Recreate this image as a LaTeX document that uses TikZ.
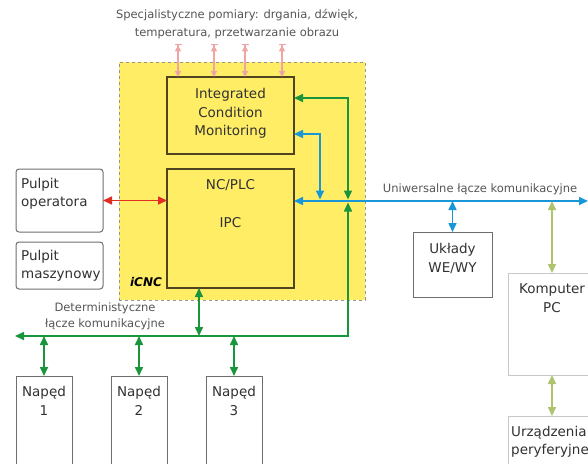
\documentclass[tikz,border=0pt]{standalone}
\usepackage{fontspec}
\setmainfont{DejaVu Sans}
\usetikzlibrary{arrows.meta}

\definecolor{cncyellow}{RGB}{255,237,102}
\definecolor{framegray}{RGB}{150,150,150}
\definecolor{boxdark}{RGB}{80,68,32}
\definecolor{boxgray}{RGB}{110,110,110}
\definecolor{boxlight}{RGB}{200,200,200}
\definecolor{txt}{RGB}{50,50,50}
\definecolor{lbl}{RGB}{85,85,85}
\definecolor{linkred}{RGB}{225,45,35}
\definecolor{linkblue}{RGB}{25,150,215}
\definecolor{linkgreen}{RGB}{25,150,60}
\definecolor{linkolive}{RGB}{175,195,110}
\definecolor{linkpink}{RGB}{240,165,165}

\tikzset{
  box/.style={draw, rectangle, inner sep=0pt, outer sep=0pt, line width=1pt},
  innerbox/.style={box, draw=boxdark, line width=1.3pt, fill=cncyellow},
  panelbox/.style={box, draw=boxgray, rounded corners=3pt, fill=white},
  plainbox/.style={box, draw=boxgray, fill=white},
  txtnode/.style={inner sep=0pt, text=txt, font=\fontsize{13.5}{18.5}\selectfont, align=center},
  smalllbl/.style={inner sep=0pt, text=lbl, font=\fontsize{11.5}{18}\selectfont, align=center},
  link/.style={line width=1.6pt, arrows={Triangle[length=9pt,width=8pt]-Triangle[length=9pt,width=8pt]}},
  sensor/.style={line width=1.4pt, linkpink,
    arrows={{Bar[width=7pt]Triangle[length=6pt,width=6pt]}-Triangle[length=6pt,width=6pt]}},
}

\begin{document}
\begin{tikzpicture}[x=1pt,y=-1pt]
\useasboundingbox (0,0) rectangle (588,463);
\clip (0,0) rectangle (588,463);

% iCNC enclosure
\node[box, draw=framegray, dashed, line width=0.8pt, fill=cncyellow,
      minimum width=246pt, minimum height=238pt] (icnc) at (242,181) {};
\node[inner sep=0pt, font=\fontsize{12}{14}\selectfont\bfseries\itshape] (icnclbl) at (146,282) {iCNC};

% inner blocks
\node[innerbox, minimum width=127pt, minimum height=77pt] (icm) at (230.5,115.5) {};
\node[txtnode] (icmtxt) at (230.5,113.5) {Integrated\\Condition\\Monitoring};
\node[innerbox, minimum width=127pt, minimum height=119pt] (ipc) at (230.5,228.5) {};
\node[txtnode] (nctxt) at (230.5,185) {NC/PLC};
\node[txtnode] (ipctxt) at (230.5,223) {IPC};

% operator panels
\node[panelbox, minimum width=87pt, minimum height=63pt] (pop) at (59.5,200.5) {};
\node[txtnode, align=left, anchor=west] (poptxt) at (21,194) {Pulpit\\operatora};
\node[panelbox, minimum width=87pt, minimum height=47pt] (pmasz) at (59.5,265.5) {};
\node[txtnode, align=left, anchor=west] (pmasztxt) at (21,266) {Pulpit\\maszynowy};

% drives
\foreach \i/\x in {1/44,2/139,3/234}{
  \node[plainbox, minimum width=56pt, minimum height=110pt] (n\i) at (\x,431) {};
  \node[txtnode] (n\i txt) at (\x,401) {Napęd\\\i};
}

% I/O, PC and peripherals
\node[box, draw=boxgray, fill=white, minimum width=79pt, minimum height=65pt] (io) at (452.5,264.5) {};
\node[txtnode] (iotxt) at (452.5,258.5) {Układy\\WE/WY};
\node[box, draw=boxlight, fill=white, minimum width=112pt, minimum height=102pt] (pc) at (564,324) {};
\node[txtnode] (pctxt) at (552,298) {Komputer\\PC};
\node[box, draw=boxlight, fill=white, minimum width=112pt, minimum height=70pt] (per) at (564,451) {};
\node[txtnode, align=left, anchor=west] (pertxt) at (511,442) {Urządzenia\\peryferyjne};

% captions
\node[smalllbl] (title) at (237,24) {Specjalistyczne pomiary: drgania, dźwięk,\\temperatura, przetwarzanie obrazu};
\node[smalllbl] (unilbl) at (480,189) {Uniwersalne łącze komunikacyjne};
\node[smalllbl, font=\fontsize{11.5}{16}\selectfont] (detlbl) at (105,316) {Deterministyczne\\łącze komunikacyjne};

% sensor inputs
\foreach \x [count=\k] in {178,214,245,282}{
  \coordinate (s\k) at (\x,44);
  \draw[sensor] (s\k) -- (s\k |- icm.north);
}

% operator panel link
\draw[link, linkred] (pop.east) -- (pop.east -| ipc.west);

% universal bus
\coordinate (ube) at (588,201);
\coordinate (ub1) at (320,199.5);
\coordinate (ub2) at (348,199.5);
\coordinate (ub3) at (348,202.5);
\coordinate (ubio) at (452.5,201);
\coordinate (ubpc) at (552,201);
\draw[link, linkblue] (ipc.east |- ube) -- (ube);
\draw[link, linkblue] (icm.east |- 0,134) -| (ub1);
\draw[link, linkblue] (ubio) -- (io.north);
\draw[link, linkolive] (ubpc) -- (ubpc |- pc.north);
\draw[link, linkolive] (ubpc |- pc.south) -- (ubpc |- per.north);

% deterministic bus
\coordinate (detL) at (15,336);
\coordinate (det0) at (199,336);
\draw[link, linkgreen] (icm.east |- 0,98) -| (ub2);
\draw[link, linkgreen] (ub3) |- (detL);
\draw[link, linkgreen] (det0 |- ipc.south) -- (det0);
\foreach \i in {1,2,3}{
  \draw[link, linkgreen] (n\i.north |- detL) -- (n\i.north);
}
\end{tikzpicture}
\end{document}
